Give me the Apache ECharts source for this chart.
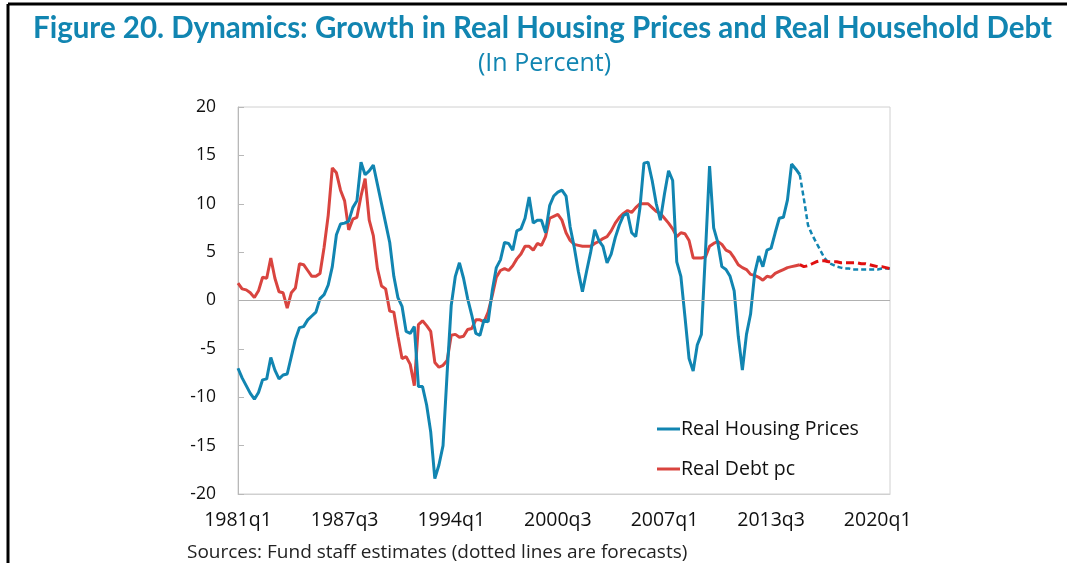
<!DOCTYPE html>
<html>
<head>
<meta charset="utf-8">
<script src="https://cdn.jsdelivr.net/npm/echarts@6/dist/echarts.min.js"></script>
<style>
  html, body { margin: 0; padding: 0; background: #fff; }
  #chart { width: 1067px; height: 563px; }
</style>
</head>
<body>
<div id="chart"></div>
<script>
// quarters 1981q1 .. 2020q4
const quarters = [];
for (let y = 1981; y <= 2020; y++) {
  for (let q = 1; q <= 4; q++) quarters.push(y + 'q' + q);
}

// real housing prices growth, actual (1981q1 .. 2015q2)
const housingActual = [
  -7.0, -8.0, -8.8, -9.6, -10.2, -9.5, -8.2, -8.1, -5.9, -7.2,
  -8.1, -7.7, -7.6, -5.8, -4.0, -2.8, -2.7, -2.0, -1.6, -1.2,
  0.2, 0.6, 1.6, 3.5, 6.8, 7.9, 8.0, 8.2, 9.6, 10.3,
  14.3, 13.0, 13.4, 14.0, 12.0, 10.0, 8.0, 6.0, 2.5, 0.3,
  -0.6, -3.2, -3.4, -2.7, -8.9, -8.9, -10.8, -13.6, -18.4, -17.0,
  -15.0, -7.5, -0.5, 2.5, 3.9, 2.3, 0.2, -1.5, -3.4, -3.6,
  -2.0, -2.2, 1.0, 3.4, 4.2, 6.0, 5.9, 5.2, 7.2, 7.4,
  8.5, 10.7, 8.0, 8.3, 8.3, 7.0, 9.8, 10.8, 11.2, 11.4,
  10.8, 7.6, 5.5, 3.0, 0.9, 3.0, 5.0, 7.3, 6.2, 5.6,
  3.9, 4.8, 6.5, 7.8, 8.8, 9.0, 7.0, 6.6, 9.5, 14.2,
  14.3, 12.4, 10.0, 8.3, 11.0, 13.4, 12.4, 4.0, 2.5, -1.7,
  -6.0, -7.3, -4.6, -3.5, 5.0, 13.9, 7.5, 6.0, 3.5, 3.2,
  2.5, 1.0, -3.7, -7.2, -3.5, -1.4, 2.8, 4.6, 3.5, 5.2,
  5.4, 7.0, 8.5, 8.6, 10.4, 14.1, 13.6, 13.0
];
// forecast (2015q2 .. 2020q4)
const housingForecast = [
  13.0, 10.5, 7.8, 6.8, 6.0, 5.2, 4.4, 3.9, 3.7, 3.5,
  3.4, 3.3, 3.3, 3.2, 3.2, 3.2, 3.2, 3.2, 3.2, 3.2,
  3.3, 3.3, 3.3
];

// real debt per capita growth, actual (1981q1 .. 2015q2)
const debtActual = [
  1.8, 1.2, 1.1, 0.8, 0.3, 1.0, 2.4, 2.3, 4.4, 2.3,
  0.9, 0.8, -0.8, 0.8, 1.3, 3.8, 3.7, 3.1, 2.5, 2.5,
  2.8, 5.5, 8.8, 13.7, 13.2, 11.4, 10.3, 7.3, 8.4, 8.6,
  10.8, 12.6, 8.3, 6.7, 3.3, 1.5, 1.2, -1.1, -1.2, -3.7,
  -6.0, -5.8, -6.6, -8.8, -2.5, -2.1, -2.6, -3.2, -6.4, -6.9,
  -6.7, -6.2, -3.6, -3.5, -3.8, -3.7, -3.0, -2.9, -2.0, -2.0,
  -2.2, -1.2, 0.5, 2.4, 3.1, 3.3, 3.1, 3.6, 4.3, 4.8,
  5.6, 5.6, 5.2, 5.9, 5.7, 6.6, 8.5, 8.7, 8.9, 8.3,
  7.0, 6.2, 5.8, 5.7, 5.6, 5.6, 5.6, 5.9, 6.1, 6.4,
  6.6, 7.2, 8.0, 8.6, 9.0, 9.3, 9.1, 9.6, 10.0, 10.0,
  10.0, 9.6, 9.2, 9.0, 8.5, 8.0, 7.4, 6.6, 7.0, 6.9,
  6.2, 4.4, 4.4, 4.4, 4.5, 5.6, 5.9, 6.1, 5.8, 5.2,
  5.0, 4.4, 3.7, 3.4, 3.2, 2.7, 2.6, 2.4, 2.1, 2.5,
  2.4, 2.8, 3.0, 3.2, 3.4, 3.5, 3.6, 3.7
];
const debtForecast = [
  3.7, 3.5, 3.6, 3.8, 4.0, 4.1, 4.1, 4.0, 4.0, 4.0,
  3.9, 3.9, 3.9, 3.9, 3.9, 3.8, 3.8, 3.7, 3.6, 3.5,
  3.5, 3.4, 3.3
];

const yTicks = [-20, -15, -10, -5, 0, 5, 10, 15, 20];

function padActual(arr) {
  return quarters.map((q, i) => (i < arr.length ? arr[i] : null));
}
function padForecast(arr) {
  const start = quarters.length - arr.length;
  return quarters.map((q, i) => (i >= start ? arr[i - start] : null));
}

const blue = '#1185b1';
const red = '#d9443f';
const font = '"Open Sans", "Noto Sans", sans-serif';

let chart = echarts.init(document.getElementById('chart'));

let option = {
  animation: false,
  title: [{
    text: 'Figure 20. Dynamics: Growth in Real Housing Prices and Real Household Debt',
    left: 28,
    top: 8,
    textStyle: { color: blue, fontSize: 29.5, fontWeight: 'bold', fontFamily: 'Lato, sans-serif' }
  }, {
    text: '(In Percent)',
    left: 473,
    top: 46,
    textStyle: { color: blue, fontSize: 25, fontWeight: 'normal', fontFamily: font }
  }, {
    text: 'Sources: Fund staff estimates (dotted lines are forecasts)',
    left: 182,
    top: 538,
    textStyle: { color: '#222', fontSize: 19, fontWeight: 'normal', fontFamily: font }
  }],
  graphic: [
    { type: 'line', shape: { x1: 8, y1: 4, x2: 1067, y2: 4 }, style: { stroke: '#000', lineWidth: 3 } },
    { type: 'line', shape: { x1: 8, y1: 4, x2: 8, y2: 563 }, style: { stroke: '#000', lineWidth: 3 } }
  ],
  legend: {
    orient: 'vertical',
    left: 652,
    top: 414,
    itemGap: 20,
    itemWidth: 23,
    itemHeight: 3,
    icon: 'rect',
    textStyle: { fontSize: 19.5, color: '#111', fontFamily: font, padding: [0, 0, 0, -4] },
    data: ['Real Housing Prices', 'Real Debt pc']
  },
  grid: {
    left: 238,
    right: 177,
    top: 107,
    bottom: 69,
    show: true,
    borderColor: '#d0d0d0',
    borderWidth: 1
  },
  xAxis: {
    type: 'category',
    data: quarters,
    boundaryGap: false,
    axisLine: { onZero: false, lineStyle: { color: '#d0d0d0' } },
    axisTick: { show: false },
    axisLabel: { interval: 25, margin: 16, fontSize: 19.5, color: '#111', fontFamily: font },
    splitLine: { show: false }
  },
  yAxis: {
    type: 'value',
    min: yTicks[0],
    max: yTicks[yTicks.length - 1],
    interval: 5,
    axisLine: { show: true, lineStyle: { color: '#b8b8b8' } },
    axisTick: { show: true, inside: true, length: 6, lineStyle: { color: '#b8b8b8' } },
    axisLabel: { margin: 22, fontSize: 17.5, color: '#111', fontFamily: font },
    splitLine: { show: false }
  },
  series: [{
    name: 'Real Housing Prices',
    type: 'line',
    data: padActual(housingActual),
    showSymbol: false,
    lineStyle: { color: blue, width: 3 },
    itemStyle: { color: blue },
    markLine: {
      silent: true,
      symbol: 'none',
      label: { show: false },
      lineStyle: { color: '#b0b0b0', width: 1, type: 'solid' },
      data: [{ yAxis: 0 }]
    },
    z: 3
  }, {
    name: 'Housing forecast',
    type: 'line',
    data: padForecast(housingForecast),
    showSymbol: false,
    lineStyle: { color: blue, width: 2.5, type: [5, 3] },
    itemStyle: { color: blue },
    z: 3
  }, {
    name: 'Real Debt pc',
    type: 'line',
    data: padActual(debtActual),
    showSymbol: false,
    lineStyle: { color: red, width: 3 },
    itemStyle: { color: red },
    z: 2
  }, {
    name: 'Debt forecast',
    type: 'line',
    data: padForecast(debtForecast),
    showSymbol: false,
    lineStyle: { color: '#e01010', width: 3, type: [8, 4] },
    itemStyle: { color: '#e01010' },
    z: 4
  }]
};

chart.setOption(option);
</script>
</body>
</html>
